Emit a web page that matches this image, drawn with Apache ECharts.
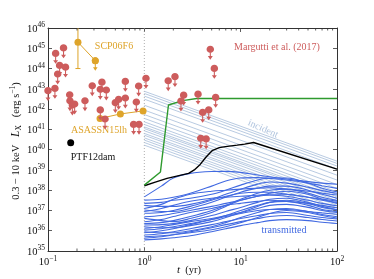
<!DOCTYPE html>
<html><head><meta charset="utf-8">
<script src="https://cdn.jsdelivr.net/npm/echarts@6/dist/echarts.min.js"></script>
<style>html,body{margin:0;padding:0;background:#fff}#c{width:374px;height:279px}</style>
</head><body><div id="c"></div>
<script>
// ---------- data (times in yr, luminosities as log10 L [erg/s]) ----------
const xTickExp = [-1, 0, 1, 2];
const yTickExp = [35, 36, 37, 38, 39, 40, 41, 42, 43, 44, 45, 46];
const xMinorTicks = [0.2,0.3,0.4,0.5,0.6,0.7,0.8,0.9,2,3,4,5,6,7,8,9,20,30,40,50,60,70,80,90];

const redX = [0.100,0.120,0.145,0.132,0.126,0.152,0.118,0.168,0.169,0.179,0.189,0.242,0.288,0.349,0.363,0.403,0.349,0.391,0.500,0.541,0.635,0.635,0.826,0.873,0.774,0.881,1.04,1.77,2.08,2.56,2.40,3.61,4.84,5.33,5.50,4.03,4.66,3.85,4.38];
const redLogL = [42.90,44.74,45.01,44.15,43.72,44.06,43.01,42.70,42.40,42.19,42.24,42.40,43.14,42.97,43.32,42.93,41.95,41.50,42.31,42.47,43.36,42.54,42.34,43.13,41.24,41.24,43.51,43.39,43.59,42.68,42.39,42.73,44.94,44.00,42.57,41.83,41.95,40.55,40.52];

const scpX = [0.2046, 0.3097];
const scpLogL = [45.30, 44.39];
const scpErrLow = 44.0, scpErrHigh = 46.0;

const asassnX = [0.347, 0.564, 0.970];
const asassnLogL = [41.54, 41.76, 41.91];

const ptfX = [0.172];
const ptfLogL = [40.34];

const incidentT = [1, 100];
const incidentStartLogL = [42.88,42.77,42.64,42.49,42.19,41.95,41.73,41.54,41.37,41.24,41.12,41.04,40.93,40.80,40.71,40.58,40.47,40.35,40.22];
const incidentEndLogL   = [39.43,39.32,39.19,39.04,38.74,38.50,38.28,38.09,37.92,37.79,37.67,37.59,37.48,37.35,37.26,37.13,37.02,36.90,36.77];

const transT = [1, 1.5, 2, 3, 5, 7, 10, 15, 20, 30, 50, 70, 100];
const transmittedLogL = [
 [37.67,38.20,38.60,38.83,38.92,38.93,38.88,38.75,38.66,38.55,38.42,38.35,38.29],
 [37.51,37.55,37.65,37.85,38.20,38.45,38.60,38.62,38.58,38.50,38.35,38.22,38.09],
 [37.35,37.40,37.50,37.60,37.80,38.00,38.25,38.50,38.60,38.60,38.35,38.10,37.92],
 [37.10,37.30,37.55,37.80,37.95,38.00,38.05,38.10,38.12,38.05,37.95,37.85,37.76],
 [37.02,36.95,36.95,37.10,37.40,37.65,37.90,38.10,38.20,38.20,38.00,37.80,37.60],
 [36.86,36.90,37.00,37.20,37.50,37.70,37.85,37.90,37.90,37.80,37.65,37.55,37.46],
 [36.69,36.75,36.85,37.00,37.20,37.35,37.50,37.70,37.85,37.95,37.80,37.55,37.35],
 [36.61,36.50,36.45,36.60,36.90,37.20,37.50,37.70,37.75,37.70,37.50,37.35,37.23],
 [36.44,36.55,36.70,36.90,37.10,37.25,37.35,37.45,37.50,37.45,37.35,37.25,37.13],
 [36.28,36.30,36.35,36.50,36.75,36.95,37.15,37.40,37.55,37.60,37.40,37.20,37.02],
 [36.12,36.20,36.30,36.45,36.60,36.75,36.90,37.10,37.25,37.30,37.15,37.00,36.90],
 [36.03,36.10,36.20,36.35,36.55,36.70,36.85,37.00,37.05,37.05,36.95,36.88,36.81],
 [35.95,35.90,35.90,36.00,36.20,36.40,36.65,36.90,37.05,37.10,36.95,36.80,36.69],
 [35.79,35.85,35.95,36.10,36.30,36.45,36.60,36.75,36.85,36.90,36.75,36.65,36.58],
 [35.63,35.70,35.80,35.95,36.15,36.30,36.45,36.60,36.70,36.75,36.65,36.55,36.48],
 [35.55,35.60,35.65,35.75,35.95,36.10,36.25,36.40,36.50,36.55,36.50,36.42,36.36],
 [37.25,37.20,37.20,37.30,37.55,37.80,38.05,38.30,38.40,38.35,38.15,37.98,37.85],
 [36.95,37.10,37.25,37.45,37.60,37.65,37.70,37.75,37.80,37.80,37.65,37.50,37.40],
 [36.35,36.40,36.50,36.70,37.00,37.25,37.55,37.85,38.00,38.05,37.85,37.65,37.50],
 [36.20,36.15,36.15,36.25,36.45,36.65,36.90,37.20,37.40,37.50,37.35,37.15,37.05],
 [35.90,36.00,36.10,36.30,36.55,36.75,37.00,37.25,37.40,37.45,37.25,37.05,36.95],
 [35.70,35.75,35.80,35.90,36.05,36.20,36.40,36.65,36.85,37.00,36.90,36.75,36.62]
];

const blackT = [1,1.3,1.72,2.88,3.3,3.8,4.4,5.05,6.0,6.95,9.2,11,13.6,100];
const blackLogL = [38.22,38.40,38.58,38.83,39.00,39.27,39.65,39.95,40.10,40.15,40.22,40.27,40.35,39.04];

const greenT = [1, 1.47, 1.78, 2.5, 3.5, 100];
const greenLogL = [38.25, 38.90, 42.20, 42.42, 42.52, 42.52];

// ---------- styling ----------
const RED = '#cd5c5c', ORANGE = '#dea42a', BLUE = '#4169e1', LIGHT = '#b0c4de', GREEN = '#2e9a2e';
const SERIF = '"Liberation Serif", "DejaVu Serif", serif';
const P = v => Math.pow(10, v);
const LIMIT = 'path://M0,3.5C0,1.567 1.567,0 3.5,0C5.433,0 7,1.567 7,3.5C7,5.433 5.433,7 3.5,7C1.567,7 0,5.433 0,3.5ZM3,6.5L4,6.5L4,10L5.8,10L3.5,13.5L1.2,10L3,10Z';

const series = [];
series.push({type:'line', data:[[1,1e35],[1,1e46]], symbol:'none', silent:true, z:1,
  lineStyle:{color:'#999', width:0.8, type:[1,2]}});
incidentStartLogL.forEach((s,i)=>series.push({type:'line', symbol:'none', silent:true, z:2,
  data:[[incidentT[0],P(s)],[incidentT[1],P(incidentEndLogL[i])]], lineStyle:{color:LIGHT, width:0.9}}));
transmittedLogL.forEach(arr=>series.push({type:'line', symbol:'none', silent:true, z:3, smooth:0.35,
  data:transT.map((t,j)=>[t,P(arr[j])]), lineStyle:{color:BLUE, width:1.1}}));
series.push({type:'line', symbol:'none', z:4, data:blackT.map((t,j)=>[t,P(blackLogL[j])]),
  lineStyle:{color:'#000', width:1.4}});
series.push({type:'line', symbol:'none', z:4, data:greenT.map((t,j)=>[t,P(greenLogL[j])]),
  lineStyle:{color:GREEN, width:1.4}});
// SCP06F6
series.push({type:'custom', z:5, silent:true, data:[[scpX[0], P(scpErrLow), P(scpErrHigh)]], encode:{x:0,y:[1,2]},
  renderItem:(p,api)=>{const x=api.value(0);const lo=api.coord([x,api.value(1)]);const hi=api.coord([x,api.value(2)]);
    return {type:'group',children:[
      {type:'line',shape:{x1:lo[0],y1:lo[1],x2:hi[0],y2:hi[1]},style:{stroke:ORANGE,lineWidth:1}},
      {type:'line',shape:{x1:lo[0]-2.5,y1:lo[1],x2:lo[0]+2.5,y2:lo[1]},style:{stroke:ORANGE,lineWidth:1}}]};}});
series.push({type:'line', z:6, data:scpX.map((t,j)=>[t,P(scpLogL[j])]), symbol:'circle', symbolSize:7,
  itemStyle:{color:ORANGE, opacity:1}, lineStyle:{color:ORANGE,width:1}});
series.push({type:'scatter', z:6, data:[[scpX[1],P(scpLogL[1])]], symbol:LIMIT, symbolSize:[7,13.5], symbolOffset:[0,3.25],
  itemStyle:{color:ORANGE, opacity:1}});
// ASASSN15lh
series.push({type:'line', z:6, data:asassnX.map((t,j)=>[t,P(asassnLogL[j])]), symbol:'circle', symbolSize:7,
  itemStyle:{color:ORANGE, opacity:1}, lineStyle:{color:ORANGE,width:1}});
// Margutti upper limits
series.push({type:'scatter', z:7, data:redX.map((t,j)=>[t,P(redLogL[j])]), symbol:LIMIT, symbolSize:[7.5,14],
  symbolOffset:[0,3.25], itemStyle:{color:RED, opacity:1}});
// PTF12dam
series.push({type:'scatter', z:7, data:ptfX.map((t,j)=>[t,P(ptfLogL[j])]), symbol:'circle', symbolSize:7,
  itemStyle:{color:'#000', opacity:1}});
// x minor ticks (bottom and top)
series.push({type:'custom', z:10, silent:true, data:xMinorTicks.map(v=>[v,1e40]),
  renderItem:(p,api)=>{const x=api.value(0);const b=api.coord([x,1e35]);const t=api.coord([x,1e46]);
    return {type:'group',children:[
      {type:'line',shape:{x1:b[0],y1:b[1],x2:b[0],y2:b[1]-2.5},style:{stroke:'#333',lineWidth:0.8}},
      {type:'line',shape:{x1:t[0],y1:t[1],x2:t[0],y2:t[1]+2.5},style:{stroke:'#333',lineWidth:0.8}}]};}});

const expStr = e => (e<0 ? '−'+(-e) : ''+e);
const richTick = {
  b:{fontFamily:SERIF, fontSize:10.5, color:'#111', lineHeight:13, verticalAlign:'bottom'},
  s:{fontFamily:SERIF, fontSize:7.5, color:'#111', lineHeight:8, verticalAlign:'top'}
};
const fmtX = v => { const e = Math.round(Math.log10(v)); return xTickExp.includes(e) ? '{b|10}{s|'+expStr(e)+'}' : ''; };
const fmtY = v => { const e = Math.round(Math.log10(v)); return yTickExp.includes(e) ? '{b|10}{s|'+expStr(e)+'}' : ''; };

const axisCommon = {
  axisLine:{show:true, onZero:false, lineStyle:{color:'#333', width:1}},
  axisTick:{show:true, inside:true, length:4, lineStyle:{color:'#333', width:0.8}},
  splitLine:{show:false}, minorTick:{show:false}
};
const option = {
  animation:false,
  grid:{left:48, right:37, top:28, bottom:28},
  xAxis:[
    Object.assign({type:'log', logBase:10, min:0.1, max:100, interval:1,
      axisLabel:{formatter:fmtX, rich:richTick, margin:4}}, axisCommon),
    Object.assign({type:'log', logBase:10, min:0.1, max:100, interval:1, position:'top',
      axisLabel:{show:false}}, axisCommon)
  ],
  yAxis:[
    Object.assign({type:'log', logBase:10, min:1e35, max:1e46, interval:1,
      axisLabel:{formatter:fmtY, rich:richTick, margin:3}}, axisCommon),
    Object.assign({type:'log', logBase:10, min:1e35, max:1e46, interval:1, position:'right',
      axisLabel:{show:false}}, axisCommon)
  ],
  series: series,
  graphic:[
    {type:'text', x:277, y:47, style:{text:'Margutti et al. (2017)', fill:RED, font:'10px '+SERIF, align:'center', verticalAlign:'middle'}},
    {type:'text', x:114, y:46, style:{text:'SCP06F6', fill:ORANGE, font:'10px '+SERIF, align:'center', verticalAlign:'middle'}},
    {type:'text', x:99, y:130, style:{text:'ASASSN15lh', fill:ORANGE, font:'10px '+SERIF, align:'center', verticalAlign:'middle'}},
    {type:'text', x:93, y:157, style:{text:'PTF12dam', fill:'#111', font:'10px '+SERIF, align:'center', verticalAlign:'middle'}},
    {type:'text', x:263, y:129, rotation:-0.42, style:{text:'incident', fill:LIGHT, font:'10px '+SERIF, align:'center', verticalAlign:'middle'}},
    {type:'text', x:284, y:230, style:{text:'transmitted', fill:BLUE, font:'10px '+SERIF, align:'center', verticalAlign:'middle'}},
    {type:'text', x:189, y:270, style:{text:'{i|t}{n|  (yr)}', align:'center', verticalAlign:'middle',
      rich:{i:{fontFamily:SERIF, fontStyle:'italic', fontSize:11, fill:'#111'}, n:{fontFamily:SERIF, fontSize:10.5, fill:'#111'}}}},
    {type:'text', x:16, y:141, rotation:Math.PI/2, style:{text:'{n|0.3 − 10 keV   }{i|L}{sb|X}{n|   (erg s}{sp|−1}{n|)}',
      align:'center', verticalAlign:'middle',
      rich:{n:{fontFamily:SERIF, fontSize:10.5, fill:'#111', lineHeight:14, verticalAlign:'middle'},
            i:{fontFamily:SERIF, fontStyle:'italic', fontSize:11.5, fill:'#111', lineHeight:14, verticalAlign:'middle'},
            sb:{fontFamily:SERIF, fontSize:7.5, fill:'#111', lineHeight:8, verticalAlign:'bottom'},
            sp:{fontFamily:SERIF, fontSize:7.5, fill:'#111', lineHeight:8, verticalAlign:'top'}}}}
  ]
};
const chart = echarts.init(document.getElementById('c'), null, {renderer:'canvas'});
chart.setOption(option);
</script>
</body></html>
